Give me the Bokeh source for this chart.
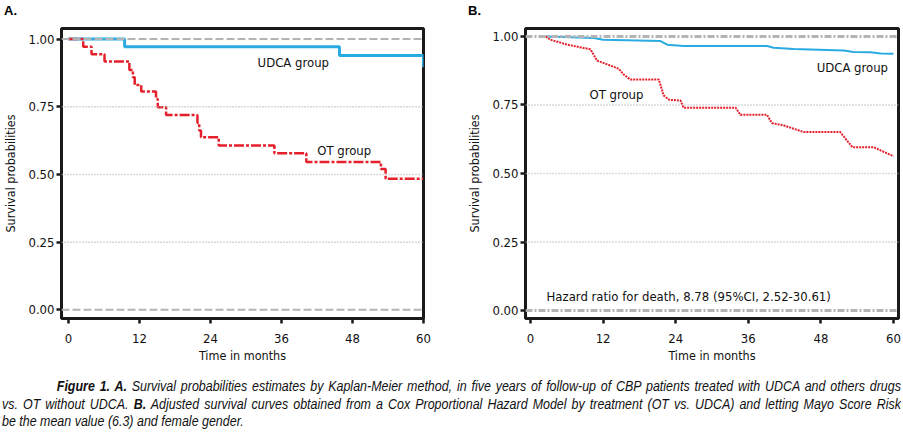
from bokeh.plotting import figure
from bokeh.models import Range1d, FixedTicker, PrintfTickFormatter, Span, Label, Div
from bokeh.layouts import row, column
from bokeh.embed import file_html
from bokeh.resources import INLINE

# ---------------- data ----------------
x_ticks = [0, 12, 24, 36, 48, 60]
y_ticks = [0.0, 0.25, 0.5, 0.75, 1.0]

# Panel A: Kaplan-Meier estimates
a_udca_t = [0, 9.5, 45.8, 60]
a_udca_s = [1.0, 0.972, 0.939, 0.896]
a_ot_t = [0, 2.5, 3.9, 6.1, 10.3, 10.9, 11.2, 12.3, 14.8, 15.1, 16.5, 21.8, 22.1, 22.4,
          25.4, 34.8, 40.2, 52.8, 53.6, 60]
a_ot_s = [1.0, 0.972, 0.944, 0.917, 0.886, 0.859, 0.830, 0.806, 0.779, 0.748, 0.720, 0.690,
          0.662, 0.637, 0.607, 0.578, 0.546, 0.520, 0.484, 0.484]

# Panel B: Cox adjusted curves
b_udca_t = [2.5, 10.5, 12.0, 21.5, 22.6, 25.3, 39.1, 40.2, 43.5, 51.8, 53.4, 56.2, 57.9, 60]
b_udca_s = [1.0, 0.994, 0.988, 0.983, 0.970, 0.965, 0.965, 0.959, 0.954, 0.949, 0.943, 0.942,
            0.938, 0.937]
b_ot_t = [2.5, 3.3, 6.1, 9.9, 11.0, 12.7, 14.6, 15.4, 16.5, 21.2, 22.0, 22.9, 24.8, 25.3,
          33.9, 34.7, 39.1, 39.9, 41.9, 45.2, 51.2, 53.2, 56.7, 60]
b_ot_s = [1.0, 0.988, 0.970, 0.953, 0.912, 0.898, 0.882, 0.861, 0.843, 0.843, 0.785, 0.769,
          0.766, 0.740, 0.740, 0.714, 0.714, 0.684, 0.675, 0.651, 0.651, 0.596, 0.596, 0.563]

hazard_text = "Hazard ratio for death, 8.78 (95%CI, 2.52-30.61)"

BLUE = "#29abe2"
RED = "#e3202b"
GRAY = "#b4b4b4"
FONT = "DejaVu Sans Condensed"
TXT = "#111111"
HDR_H = 20
FIG_H = 350
WA, WB = 462, 441


def base_fig(width, xr, yr, bl, br):
    p = figure(width=width, height=FIG_H, x_range=Range1d(*xr), y_range=Range1d(*yr),
               output_backend="svg", toolbar_location=None,
               min_border_left=bl, min_border_right=br, min_border_top=28 - HDR_H,
               min_border_bottom=FIG_H - (318 - HDR_H))
    p.outline_line_color = "#1a1a1a"
    p.outline_line_width = 3
    p.xgrid.visible = False
    p.ygrid.visible = False
    p.background_fill_color = "white"
    p.border_fill_color = "white"
    for ax in (p.xaxis[0], p.yaxis[0]):
        ax.axis_line_color = None
        ax.major_tick_in = 0
        ax.major_tick_out = 5
        ax.major_tick_line_width = 2.5
        ax.major_tick_line_color = "#1a1a1a"
        ax.minor_tick_line_color = None
        ax.major_label_text_font = FONT
        ax.major_label_text_font_size = "13px"
        ax.major_label_text_color = TXT
        ax.axis_label_text_font = FONT
        ax.axis_label_text_font_size = "12.5px"
        ax.axis_label_text_font_style = "normal"
        ax.axis_label_text_color = TXT
    p.xaxis.ticker = FixedTicker(ticks=x_ticks)
    p.yaxis.ticker = FixedTicker(ticks=y_ticks)
    p.yaxis.formatter = PrintfTickFormatter(format="%.2f")
    p.xaxis.axis_label = "Time in months"
    p.yaxis.axis_label = "Survival probabilities"
    p.xaxis.major_label_standoff = 10
    p.xaxis.axis_label_standoff = 2
    p.yaxis.major_label_standoff = 2
    p.yaxis.axis_label_standoff = 7
    return p


def lab(p, x, y, text, align="center"):
    p.add_layout(Label(x=x, y=y, text=text, text_font=FONT, text_font_size="13px",
                       text_align=align, text_baseline="middle", text_color=TXT))


# ---------------- Panel A ----------------
pA = base_fig(WA, (-1.17, 60.0), (-0.032, 1.039), 58, WA - 423)
for loc in (0.25, 0.5, 0.75):
    pA.add_layout(Span(location=loc, dimension="width", line_color=GRAY, line_width=1.5,
                       line_dash="1 2"))
for loc in (0.0, 1.0):
    pA.add_layout(Span(location=loc, dimension="width", line_color=GRAY, line_width=2,
                       line_dash="8 3"))
pA.step(a_udca_t, a_udca_s, mode="after", line_color=BLUE, line_width=3)
pA.step(a_ot_t, a_ot_s, mode="after", line_color=RED, line_width=2.5, line_dash="10 2 3 2")
lab(pA, 38, 0.913, "UDCA group")
lab(pA, 46.6, 0.588, "OT group")

# ---------------- Panel B ----------------
pB = base_fig(WB, (-0.83, 60.83), (-0.029, 1.029), 525 - WA, WA + WB - 898)
for loc in (0.25, 0.5, 0.75):
    pB.add_layout(Span(location=loc, dimension="width", line_color=GRAY, line_width=1.5,
                       line_dash="1 2"))
for loc in (0.0, 1.0):
    pB.add_layout(Span(location=loc, dimension="width", line_color=GRAY, line_width=3,
                       line_dash="7 2 2 2"))
pB.line(b_udca_t, b_udca_s, line_color=BLUE, line_width=2)
pB.line(b_ot_t, b_ot_s, line_color=RED, line_width=2, line_dash="2 1")
lab(pB, 53.2, 0.888, "UDCA group")
lab(pB, 14.2, 0.787, "OT group")
lab(pB, 2.65, 0.051, hazard_text, align="left")

# ---------------- headers ----------------
hdr_style = ("font-family:'Liberation Sans',sans-serif;font-weight:bold;font-size:13px;"
             "line-height:13px;color:#000;margin-top:4px;")
hA = Div(text=f"<div style=\"{hdr_style}margin-left:4px;\">A.</div>",
         width=WA, height=HDR_H, margin=0)
hB = Div(text=f"<div style=\"{hdr_style}margin-left:6px;\">B.</div>",
         width=WB, height=HDR_H, margin=0)

# ---------------- Caption ----------------
CAP_W = 899
SCALE = 0.83
inner_w = CAP_W / SCALE
cap_h = 434 - HDR_H - FIG_H
cap_style = (f"font-family:'Liberation Sans',sans-serif;font-style:italic;"
             f"font-size:15px;line-height:17.5px;color:#111;padding-top:7px;"
             f"width:{inner_w:.0f}px;transform:scaleX({SCALE});transform-origin:0 0;")
caption_html = (
    f"<div style=\"width:{CAP_W}px;height:{cap_h}px;overflow:hidden;margin-left:2px;\">"
    f"<div style=\"{cap_style}\">"
    f"<div style=\"text-align:justify;text-align-last:justify;padding-left:{55/SCALE:.0f}px;\">"
    "<b>Figure 1. A.</b> Survival probabilities estimates by Kaplan-Meier method, in five years "
    "of follow-up of CBP patients treated with UDCA and others drugs</div>"
    "<div style=\"text-align:justify;text-align-last:justify;\">"
    "vs. OT without UDCA. <b>B.</b> Adjusted survival curves obtained from a Cox Proportional "
    "Hazard Model by treatment (OT vs. UDCA) and letting Mayo Score Risk</div>"
    "<div>be the mean value (6.3) and female gender.</div>"
    "</div></div>"
)
cap = Div(text=caption_html, width=WA + WB, height=cap_h, margin=0)

layout = column(row(hA, hB), row(pA, pB), cap)
open("out.html", "w").write(file_html(layout, INLINE))
